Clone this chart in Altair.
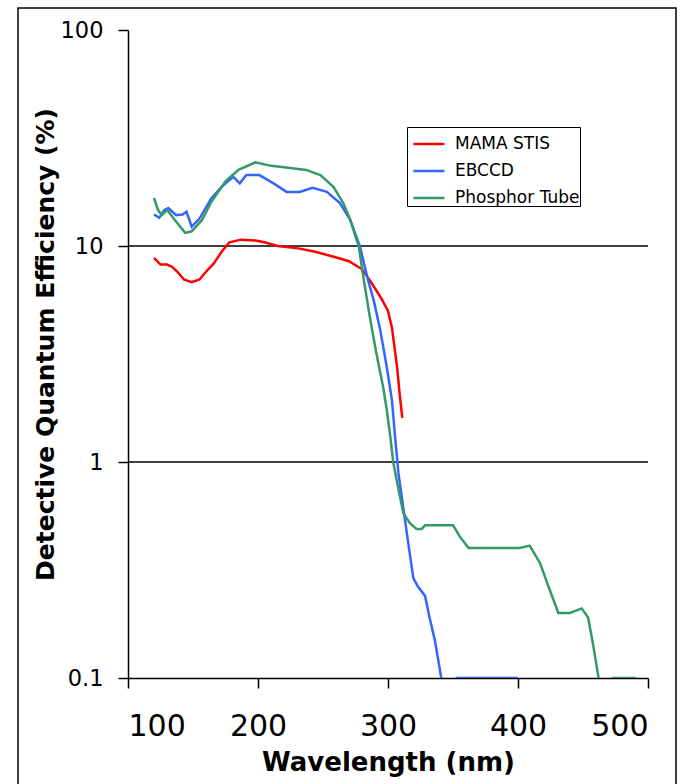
import altair as alt
import pandas as pd

series_names = ["MAMA STIS", "EBCCD", "Phosphor Tube"]
series_colors = ["#FF0000", "#3366FF", "#339966"]

mama_wl = [120, 125, 130, 134, 138, 143, 149, 155, 160, 166, 172, 178, 187, 198, 205, 215,
           231, 244, 259, 270, 280, 287, 295, 300, 303, 307, 309, 311]
mama_dqe = [8.8, 8.2, 8.2, 8.0, 7.6, 7.0, 6.8, 7.0, 7.6, 8.3, 9.4, 10.4, 10.7, 10.6, 10.4, 10.0,
            9.75, 9.4, 8.9, 8.5, 7.8, 6.8, 5.7, 5.0, 4.2, 2.75, 2.05, 1.6]

ebccd_wl = [120, 124, 128, 131, 137, 142, 145, 149, 155, 164, 172, 181, 186, 191, 201, 212,
            222, 232, 242, 253, 263, 271, 278.5, 284, 289, 294, 299, 303, 305.5, 308, 312,
            315.6, 319.5, 323, 328.5, 332, 336, 341]
ebccd_dqe = [14.0, 13.5, 14.7, 15.0, 13.9, 14.0, 14.4, 12.3, 13.4, 16.6, 18.8, 20.9, 19.5, 21.3,
             21.3, 19.5, 17.8, 17.8, 18.6, 17.8, 15.8, 13.2, 9.9, 7.2, 5.6, 4.1, 2.76, 1.94, 1.3,
             0.89, 0.6, 0.42, 0.29, 0.265, 0.24, 0.19, 0.15, 0.1]
ebccd_tail_wl = [352, 400]
ebccd_tail_dqe = [0.1, 0.1]

phos_wl = [120, 123, 126, 130, 136, 144, 149, 157, 164, 175, 185, 198, 210, 217, 237, 248,
           258, 265.6, 271, 276, 277.5, 281, 286, 291, 296.4, 299, 301.5, 304, 308, 311.8, 317,
           322, 326, 328.5, 350, 355.4, 362, 401.5, 409, 417, 423, 431, 440, 449, 454, 458, 462]
phos_dqe = [16.7, 14.7, 13.9, 14.7, 13.2, 11.5, 11.7, 13.2, 16.0, 19.9, 22.5, 24.4, 23.5, 23.3,
            22.5, 21.3, 18.8, 15.8, 13.2, 10.6, 10.0, 7.2, 4.7, 3.2, 2.2, 1.75, 1.35, 1.0, 0.75,
            0.58, 0.52, 0.49, 0.49, 0.51, 0.51, 0.45, 0.40, 0.40, 0.41, 0.34, 0.27, 0.2, 0.2,
            0.21, 0.19, 0.14, 0.1]
phos_tail_wl = [472, 491]
phos_tail_dqe = [0.1, 0.1]

x_ticks = [100, 200, 300, 400, 500]
y_ticks = [0.1, 1, 10, 100]
grid_values = [1, 10]

rows = []
def add(name, seg, wls, vals):
    for i, (w, v) in enumerate(zip(wls, vals)):
        rows.append({"series": name, "seg": f"{name}-{seg}", "idx": i, "wl": w, "dqe": v})

add("MAMA STIS", 0, mama_wl, mama_dqe)
add("EBCCD", 0, ebccd_wl, ebccd_dqe)
add("EBCCD", 1, ebccd_tail_wl, ebccd_tail_dqe)
add("Phosphor Tube", 0, phos_wl, phos_dqe)
add("Phosphor Tube", 1, phos_tail_wl, phos_tail_dqe)
df = pd.DataFrame(rows)

FONT = "DejaVu Sans"

x_enc = alt.X(
    "wl:Q",
    scale=alt.Scale(domain=[100, 500], nice=False),
    axis=alt.Axis(
        values=x_ticks, format="d", grid=False,
        labelFont=FONT, labelFontSize=30, labelColor="black", labelPadding=23,
        tickSize=10, tickColor="black", tickWidth=1.5,
        domainColor="black", domainWidth=1.5,
        title="Wavelength (nm)", titleFont=FONT, titleFontSize=26, titleFontWeight="bold",
        titleColor="black", titleY=92, titleBaseline="alphabetic",
    ),
)
y_enc = alt.Y(
    "dqe:Q",
    scale=alt.Scale(type="log", domain=[0.1, 100], nice=False),
    axis=alt.Axis(
        values=y_ticks, format="~g", grid=False,
        labelFont=FONT, labelFontSize=22.5, labelColor="black", labelPadding=15,
        tickSize=10, tickColor="black", tickWidth=1.5,
        domainColor="black", domainWidth=1.5,
        title="Detective Quantum Efficiency (%)", titleFont=FONT, titleFontSize=25,
        titleFontWeight="bold", titleColor="black", titleX=-75, titleY=314,
        titleAngle=270, titleBaseline="alphabetic", titleAlign="center",
    ),
)

lines = alt.Chart(df).mark_line(strokeWidth=2.5, clip=True).encode(
    x=x_enc,
    y=y_enc,
    color=alt.Color(
        "series:N",
        scale=alt.Scale(domain=series_names, range=series_colors),
        legend=alt.Legend(
            title=None, orient="none", legendX=279, legendY=97,
            symbolType="M-0.68,0H1.32", symbolSize=961, symbolStrokeWidth=2.5,
            labelFont=FONT, labelFontSize=17, labelColor="black", labelOffset=14,
            strokeColor="black", fillColor="white", padding=0, rowPadding=2,
        ),
    ),
    detail="seg:N",
    order="idx:Q",
)

grid = alt.Chart(pd.DataFrame({"v": grid_values})).mark_rule(
    color="black", strokeWidth=1.5
).encode(y=alt.Y("v:Q"))

frame = alt.Chart(pd.DataFrame({"a": [0]})).mark_rect(
    fill="transparent", stroke="black", strokeWidth=1.5
).encode(x=alt.value(-110), x2=alt.value(548), y=alt.value(-22), y2=alt.value(790))

chart = alt.layer(frame, grid, lines).properties(
    width=520, height=648,
    autosize=alt.AutoSizeParams(type="none"),
    padding={"left": 128, "top": 30, "right": 42, "bottom": 106},
    background="white",
).configure_view(stroke=None)

chart.save("out.html", embed_options={"renderer": "svg", "actions": False})
